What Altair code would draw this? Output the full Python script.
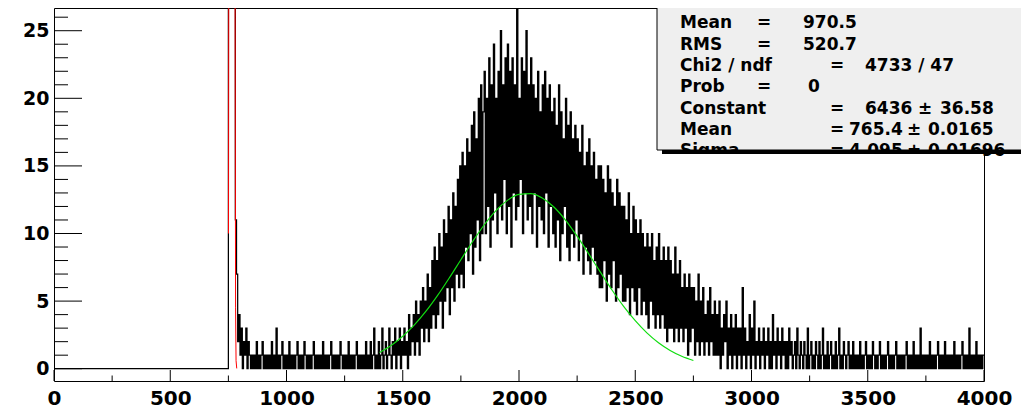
import altair as alt
import pandas as pd

# ---------------- data ----------------
bin_start = 750
bin_width = 5
counts = (
    [300, 5000, 25000, 28000, 7000, 400, 11, 7, 2, 4, 1, 3, 0, 2, 1, 3, 0, 2, 1, 0]
    + [1, 0, 1, 0, 2, 0, 1, 0, 1, 2, 0, 1, 0, 1, 0, 1, 0, 2, 0, 1]
    + [0, 3, 0, 1, 0, 1, 2, 0, 1, 0, 1, 0, 2, 0, 1, 0, 1, 0, 1, 2]
    + [0, 1, 0, 1, 0, 2, 1, 0, 1, 0, 1, 0, 1, 2, 0, 1, 0, 1, 0, 1]
    + [0, 2, 0, 1, 0, 1, 0, 1, 2, 0, 1, 0, 1, 0, 1, 0, 2, 1, 0, 1]
    + [0, 1, 0, 2, 0, 1, 0, 1, 0, 1, 2, 0, 1, 0, 1, 0, 1, 0, 2, 0]
    + [1, 0, 2, 0, 1, 3, 0, 1, 0, 2, 0, 1, 3, 0, 1, 2, 0, 1, 3, 1]
    + [0, 2, 1, 3, 0, 2, 1, 3, 0, 2, 1, 3, 1, 2, 0, 4, 1, 3, 2, 4]
    + [1, 5, 2, 4, 1, 5, 3, 6, 2, 5, 3, 7, 2, 6, 3, 8, 4, 9, 3, 8]
    + [4, 10, 5, 9, 3, 11, 5, 10, 6, 12, 4, 11, 6, 13, 5, 12, 7, 14, 6, 15]
    + [7, 16, 6, 15, 9, 17, 8, 16, 10, 18, 7, 19, 9, 17, 11, 20, 8, 21, 10, 19]
    + [22, 10, 20, 12, 23, 9, 21, 11, 24, 13, 20, 10, 22, 12, 25, 11, 21, 14, 23, 10]
    + [24, 12, 22, 9, 23, 13, 21, 11, 27, 12, 20, 14, 23, 10, 22, 13, 25, 11, 21, 12]
    + [23, 10, 21, 13, 20, 9, 22, 12, 19, 11, 21, 10, 22, 13, 20, 9, 21, 12, 19, 10]
    + [20, 9, 18, 11, 21, 8, 19, 10, 17, 12, 20, 9, 18, 8, 19, 10, 17, 9, 18, 11]
    + [17, 8, 16, 10, 18, 7, 15, 9, 16, 8, 17, 7, 15, 9, 16, 8, 14, 7, 15, 6]
    + [15, 6, 14, 8, 13, 5, 15, 7, 14, 6, 13, 8, 12, 5, 14, 6, 13, 7, 12, 5]
    + [12, 5, 11, 6, 13, 4, 10, 6, 12, 5, 11, 4, 10, 6, 11, 4, 10, 5, 9, 4]
    + [10, 3, 9, 5, 10, 4, 8, 3, 9, 4, 10, 3, 8, 4, 9, 3, 8, 2, 9, 3]
    + [8, 3, 7, 2, 9, 3, 7, 2, 8, 3, 6, 2, 7, 3, 6, 1, 7, 2, 6, 3]
    + [6, 1, 5, 2, 7, 1, 5, 2, 6, 1, 4, 2, 5, 1, 6, 2, 4, 1, 5, 1]
    + [4, 1, 5, 0, 3, 1, 4, 2, 5, 0, 3, 1, 4, 0, 3, 1, 4, 0, 3, 1]
    + [3, 0, 6, 1, 3, 0, 2, 1, 4, 0, 3, 1, 5, 0, 2, 1, 3, 0, 2, 1]
    + [3, 0, 2, 1, 3, 0, 2, 0, 4, 1, 2, 0, 3, 1, 2, 0, 3, 1, 2, 0]
    + [2, 0, 3, 1, 2, 0, 1, 2, 0, 3, 1, 0, 2, 1, 0, 2, 1, 0, 3, 0]
    + [1, 2, 0, 1, 0, 2, 1, 0, 2, 0, 1, 3, 0, 1, 0, 2, 0, 1, 2, 0]
    + [1, 0, 2, 0, 1, 3, 0, 1, 0, 2, 1, 0, 1, 2, 0, 1, 0, 2, 0, 1]
    + [0, 1, 0, 2, 0, 1, 0, 1, 2, 0, 1, 0, 1, 0, 2, 1, 0, 1, 0, 1]
    + [2, 0, 1, 0, 1, 0, 1, 2, 0, 1, 0, 1, 0, 1, 2, 0, 1, 0, 1, 0]
    + [1, 0, 1, 2, 0, 1, 0, 1, 0, 2, 0, 1, 0, 1, 0, 3, 0, 1, 0, 1]
    + [0, 1, 0, 2, 0, 1, 0, 1, 0, 1, 2, 0, 1, 0, 1, 0, 2, 0, 1, 0]
    + [1, 0, 1, 0, 2, 0, 1, 0, 1, 0, 1, 2, 0, 1, 0, 1, 0, 3, 0, 1]
    + [0, 1, 0, 2, 0, 1, 0, 1, 0, 1]
)

# red fit (narrow peak)
red_x = [750.6, 752, 755, 760, 765.4, 771, 776, 779, 781, 783, 786]
red_y = [10, 31, 230, 2700, 6436, 2580, 300, 26, 4.5, 0.6, 0.02]

# green fit (broad bump)
green_x = [1400, 1450, 1500, 1550, 1600, 1650, 1700, 1750, 1800, 1850, 1900, 1950, 2000, 2050,
           2100, 2150, 2200, 2250, 2300, 2350, 2400, 2450, 2500, 2550, 2600, 2650, 2700, 2750]
green_y = [1.20, 1.72, 2.40, 3.24, 4.25, 5.42, 6.71, 8.06, 9.39, 10.63, 11.68, 12.45, 12.89, 12.95,
           12.63, 11.96, 10.99, 9.80, 8.49, 7.14, 5.82, 4.61, 3.55, 2.65, 1.92, 1.35, 0.92, 0.61]

x_major = [0, 500, 1000, 1500, 2000, 2500, 3000, 3500, 4000]
x_minor = [250, 750, 1250, 1750, 2250, 2750, 3250, 3750]
y_major = [0, 5, 10, 15, 20, 25]
y_minor = [1, 2, 3, 4, 6, 7, 8, 9, 11, 12, 13, 14, 16, 17, 18, 19, 21, 22, 23, 24, 26]

stat_names = ["Nent", "Mean", "RMS", "Chi2 / ndf", "Prob", "Constant", "Mean", "Sigma"]
stat_values = ["53216", "970.5", "520.7", "4733 / 47", "0", "6436", "765.4", "4.095"]
stat_errors = ["", "", "", "", "", "36.58", "0.0165", "0.01696"]

# ---------------- layout ----------------
W, H = 930, 373
OX, OY = 54, 8  # page position of the plot area

xs = [0] + [bin_start + bin_width * i for i in range(len(counts))] + [4000]
ys = [0] + counts + [counts[-1]]
hist_df = pd.DataFrame({"x": xs, "y": ys})
red_df = pd.DataFrame({"x": red_x, "y": red_y})
green_df = pd.DataFrame({"x": green_x, "y": green_y})

FONT = "DejaVu Sans"
xscale = alt.Scale(domain=[0, 4000], nice=False, zero=False)
yscale = alt.Scale(domain=[-0.91, 26.68], nice=False, zero=False)
xaxis = alt.Axis(values=x_major, labelFont=FONT, labelFontSize=20, labelFontWeight="bold",
                 labelColor="black", labelPadding=7, ticks=False, tickSize=0, domain=False,
                 grid=False, title="", labelFlush=False, labelOverlap=False, format="d")
yaxis = alt.Axis(values=y_major, labelFont=FONT, labelFontSize=19, labelFontWeight="bold",
                 labelColor="black", labelPadding=5, ticks=False, tickSize=0, domain=False,
                 grid=False, title="", labelFlush=False, labelOverlap=False, format="d")

X = alt.X("x:Q", scale=xscale, axis=xaxis)
Y = alt.Y("y:Q", scale=yscale, axis=yaxis)

hist = alt.Chart(hist_df).mark_line(interpolate="step-after", color="black",
                                    strokeWidth=1.25, clip=True).encode(x=X, y=Y)
red = alt.Chart(red_df).mark_line(color="#ff0000", strokeWidth=1, clip=True).encode(x=X, y=Y)
green = alt.Chart(green_df).mark_line(color="#11dd11", strokeWidth=1.2, clip=True,
                                      interpolate="monotone").encode(x=X, y=Y)

ymaj = alt.Chart(pd.DataFrame({"y": y_major})).mark_rule(color="black", strokeWidth=1).encode(
    y=Y, x=alt.value(0), x2=alt.value(28))
ymin = alt.Chart(pd.DataFrame({"y": y_minor})).mark_rule(color="black", strokeWidth=1).encode(
    y=Y, x=alt.value(0), x2=alt.value(14))
xmaj = alt.Chart(pd.DataFrame({"x": x_major})).mark_rule(color="black", strokeWidth=1).encode(
    x=X, y=alt.value(H), y2=alt.value(H - 11))
xmin = alt.Chart(pd.DataFrame({"x": x_minor})).mark_rule(color="black", strokeWidth=1).encode(
    x=X, y=alt.value(H), y2=alt.value(H - 5.5))

one = pd.DataFrame({"a": [0]})


def rect(x1, y1, x2, y2, **kw):
    return alt.Chart(one).mark_rect(**kw).encode(
        x=alt.value(x1 - OX), x2=alt.value(x2 - OX), y=alt.value(y1 - OY), y2=alt.value(y2 - OY))


def txt(s, px, py):
    return alt.Chart(one).mark_text(text=s, font=FONT, fontSize=17, fontWeight="bold",
                                    color="black", align="left", baseline="alphabetic").encode(
        x=alt.value(px - OX), y=alt.value(py - OY))


box = rect(657, -6, 1040, 150, fill="#efefef", stroke="black", strokeWidth=1)
cover = rect(657, 154, 982, 164, fill="white")
shadow = rect(662, 150, 1040, 154, fill="black")

name_x = 680
eq_x = [747, 757, 757, 830, 757, 830, 830, 830]
val_x = [767, 803, 803, 865, 808, 865, 849, 849]
pm_x = [0, 0, 0, 0, 0, 918, 907, 907]
err_x = [0, 0, 0, 0, 0, 940, 928, 928]
base0, pitch = 7.0, 21.3

texts = []
for i, name in enumerate(stat_names):
    by = base0 + pitch * i
    texts.append(txt(name, name_x, by))
    texts.append(txt("=", eq_x[i], by))
    texts.append(txt(stat_values[i], val_x[i], by))
    if stat_errors[i]:
        texts.append(txt("\u00b1", pm_x[i], by))
        texts.append(txt(stat_errors[i], err_x[i], by))

chart = alt.layer(hist, red, green, ymaj, ymin, xmaj, xmin, box, *texts, cover, shadow).properties(
    width=W, height=H,
    padding={"left": 46, "top": 0, "right": 37, "bottom": 28},
    autosize=alt.AutoSizeParams(type="none"),
    background="white",
).configure_view(stroke="black", strokeWidth=1)

chart.save("out.html", embed_options={"renderer": "svg", "actions": False})
